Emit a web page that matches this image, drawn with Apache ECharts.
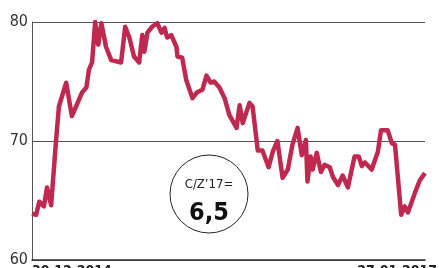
<!DOCTYPE html>
<html lang="pl">
<head>
    <meta charset="UTF-8">
    <title>C/Z</title>
    <style>
        html, body { margin: 0; padding: 0; background: #fff; }
        #main { width: 439px; height: 268px; }
    </style>
</head>
<body>
    <div id="main"></div>
    <script src="https://cdn.jsdelivr.net/npm/echarts@6/dist/echarts.min.js"></script>
    <script>
        // dane
        var dates = [
            '2014-12-30', '2015-01-07', '2015-01-13', '2015-01-22', '2015-01-28', '2015-02-05',
            '2015-02-14', '2015-02-20', '2015-03-06', '2015-03-17', '2015-03-25', '2015-04-06',
            '2015-04-14', '2015-04-19', '2015-04-25', '2015-05-01', '2015-05-07', '2015-05-13',
            '2015-05-22', '2015-06-01', '2015-06-20', '2015-06-28', '2015-07-06', '2015-07-15',
            '2015-07-25', '2015-07-31', '2015-08-04', '2015-08-10', '2015-08-19', '2015-08-29',
            '2015-09-06', '2015-09-12', '2015-09-17', '2015-09-25', '2015-10-05', '2015-10-07',
            '2015-10-16', '2015-10-24', '2015-11-05', '2015-11-14', '2015-11-24', '2015-12-02',
            '2015-12-10', '2015-12-17', '2015-12-27', '2016-01-06', '2016-01-15', '2016-01-29',
            '2016-02-04', '2016-02-10', '2016-02-23', '2016-02-29', '2016-03-10', '2016-03-19',
            '2016-03-31', '2016-04-08', '2016-04-17', '2016-04-27', '2016-05-07', '2016-05-16',
            '2016-05-26', '2016-06-03', '2016-06-11', '2016-06-14', '2016-06-20', '2016-06-24',
            '2016-07-02', '2016-07-10', '2016-07-17', '2016-07-27', '2016-08-02', '2016-08-12',
            '2016-08-21', '2016-08-31', '2016-09-13', '2016-09-21', '2016-09-27', '2016-10-03',
            '2016-10-16', '2016-10-28', '2016-11-03', '2016-11-16', '2016-11-24', '2016-11-30',
            '2016-12-12', '2016-12-19', '2016-12-25', '2017-01-08', '2017-01-17', '2017-01-27'
        ];
        var values = [
            63.9, 63.8, 64.9, 64.5, 66.1, 64.6,
            69.8, 72.9, 74.9, 72.1, 72.9, 74.1,
            74.5, 76.0, 76.6, 80.0, 78.1, 79.9,
            77.9, 76.8, 76.6, 79.6, 78.7, 77.1,
            76.6, 78.9, 77.5, 79.1, 79.6, 79.9,
            79.1, 79.5, 78.7, 78.9, 77.9, 77.1,
            77.0, 75.1, 73.6, 74.1, 74.3, 75.5,
            74.9, 75.0, 74.5, 73.6, 72.2, 71.1,
            73.0, 71.5, 73.2, 72.9, 69.2, 69.2,
            67.8, 69.1, 70.0, 66.9, 67.6, 69.7,
            71.1, 68.8, 70.1, 66.6, 68.7, 67.6,
            69.0, 67.4, 68.0, 67.8, 67.0, 66.3,
            67.1, 66.1, 68.7, 68.7, 67.9, 68.2,
            67.6, 69.1, 70.9, 70.9, 69.8, 69.7,
            63.8, 64.5, 64.0, 65.7, 66.7, 67.3
        ];
        var dateLabels = ['30.12.2014', '27.01.2017'];
        var badgeTitle = 'C/Z\u201917=';
        var badgeValue = '6,5';

        var font = '"Liberation Sans Narrow", "DejaVu Sans Condensed", sans-serif';
        var myChart = echarts.init(document.getElementById('main'));

        var seriesData = dates.map(function (d, i) { return [d, values[i]]; });

        var option = {
            animation: false,
            grid: { left: 32, right: 14, top: 22, bottom: 8 },
            xAxis: {
                type: 'time',
                min: '2014-12-30',
                max: '2017-01-27',
                axisLine: { lineStyle: { color: '#333', width: 1.5 } },
                axisTick: { show: false },
                axisLabel: { show: false },
                splitLine: { show: false }
            },
            yAxis: {
                type: 'value',
                min: 60,
                max: 80,
                interval: 10,
                axisLine: { show: true, lineStyle: { color: '#555', width: 1 } },
                axisTick: { show: false },
                axisLabel: { color: '#333', fontSize: 16, fontFamily: font, margin: 4 },
                splitLine: { lineStyle: { color: '#555', width: 1 } }
            },
            series: [{
                type: 'line',
                data: seriesData,
                showSymbol: false,
                lineStyle: { color: '#c0294f', width: 4.5, join: 'round' },
                itemStyle: { color: '#c0294f' }
            }],
            graphic: [
                {
                    type: 'circle', z: 100,
                    shape: { cx: 209, cy: 194, r: 39 },
                    style: { fill: '#fff', stroke: '#222', lineWidth: 1 }
                },
                {
                    type: 'text', z: 101, x: 209, y: 185,
                    style: { text: badgeTitle, fill: '#222', font: '13px ' + font, textAlign: 'center', textVerticalAlign: 'middle' }
                },
                {
                    type: 'text', z: 101, x: 209, y: 213,
                    style: { text: badgeValue, fill: '#111', font: 'bold 25px ' + font, textAlign: 'center', textVerticalAlign: 'middle' }
                },
                {
                    type: 'text', z: 101, x: 32, y: 264,
                    style: { text: dateLabels[0], fill: '#222', font: 'bold 14px ' + font, textAlign: 'left', textVerticalAlign: 'top' }
                },
                {
                    type: 'text', z: 101, x: 437, y: 264,
                    style: { text: dateLabels[1], fill: '#222', font: 'bold 14px ' + font, textAlign: 'right', textVerticalAlign: 'top' }
                }
            ]
        };
        myChart.setOption(option);
    </script>
</body>
</html>
